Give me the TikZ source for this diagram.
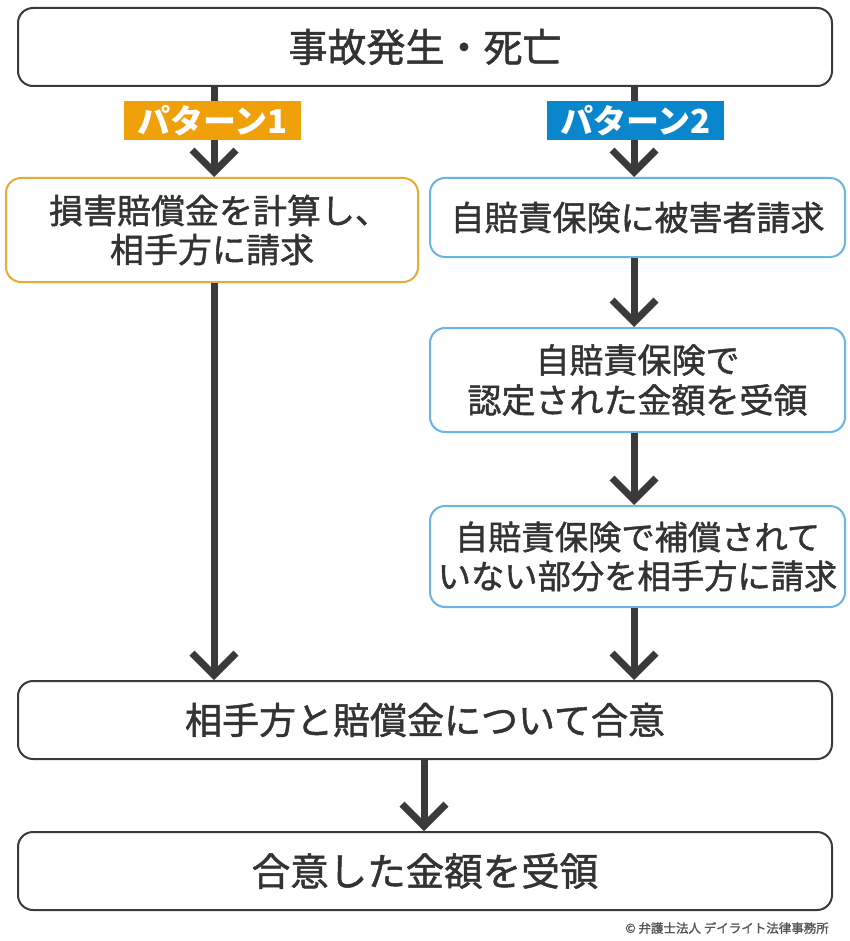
\documentclass[tikz,border=0pt]{standalone}
\usepackage{fontspec}
\newfontfamily\jp{Noto Sans CJK JP}[FakeBold=1.3]
\newfontfamily\jpb{Noto Sans CJK JP}
\usetikzlibrary{arrows.meta,calc}
\definecolor{txt}{HTML}{333333}
\definecolor{ln}{HTML}{3A3A3A}
\definecolor{org}{HTML}{F0A00A}
\definecolor{orgb}{HTML}{E9AC33}
\definecolor{blu}{HTML}{0A86CC}
\definecolor{blub}{HTML}{68B6E6}
\definecolor{cpy}{HTML}{555555}
\tikzset{
  box/.style={rectangle, rounded corners=15pt, line width=2pt, fill=white, text=txt,
    font=\jp\fontsize{38}{42}\selectfont, align=center, inner sep=0pt},
  graybox/.style={box, draw=ln},
  orgbox/.style={box, draw=orgb, font=\jp\fontsize{34}{39}\selectfont},
  blubox/.style={box, draw=blub, font=\jp\fontsize{34}{40}\selectfont},
  tag/.style={rectangle, inner sep=0pt, text=white, font=\jpb\bfseries\fontsize{33}{34}\selectfont,
    minimum width=177pt, minimum height=39pt},
  arr/.style={draw=ln, line width=7pt, -{Straight Barb[length=22pt,width=44pt,line width=7pt]}},
}
\begin{document}
\begin{tikzpicture}[x=1pt,y=-1pt]
\useasboundingbox (0,0) rectangle (850,941);
\fill[white] (0,0) rectangle (850,941);
\node[graybox, minimum width=814pt, minimum height=78pt, font=\jp\fontsize{39}{42}\selectfont] (top) at (425,47) {事故発生・死亡};
\node[orgbox, minimum width=412pt, minimum height=104pt] (L1) at (212,230) {\hspace*{14pt}損害賠償金を計算し、\\相手方に請求};
\node[blubox, minimum width=415pt, minimum height=79pt] (R1) at (637.5,217.5) {自賠責保険に被害者請求};
\node[blubox, minimum width=415pt, minimum height=104pt] (R2) at (637.5,380) {自賠責保険で\\認定された金額を受領};
\node[blubox, minimum width=415pt, minimum height=101pt, font=\jp\fontsize{33.3}{39}\selectfont] (R3) at (637.5,556.5) {自賠責保険で補償されて\\いない部分を相手方に請求};
\node[graybox, minimum width=814pt, minimum height=78pt, font=\jp\fontsize{37}{42}\selectfont] (M) at (425,720) {相手方と賠償金について合意};
\node[graybox, minimum width=814pt, minimum height=78pt, font=\jp\fontsize{38.5}{42}\selectfont] (B) at (425,871) {合意した金額を受領};
\coordinate (xl) at (214,0);
\coordinate (xr) at (634,0);
\coordinate (xm) at (424,0);
\draw[arr] (top.south -| xl) -- (L1.north -| xl);
\draw[arr] (top.south -| xr) -- (R1.north -| xr);
\draw[arr] (R1.south -| xr) -- (R2.north -| xr);
\draw[arr] (R2.south -| xr) -- (R3.north -| xr);
\draw[arr] (L1.south -| xl) -- (M.north -| xl);
\draw[arr] (R3.south -| xr) -- (M.north -| xr);
\draw[arr] (M.south -| xm) -- (B.north -| xm);
\node[tag, fill=org] (p1) at (212.5,120.5) {パターン1};
\node[tag, fill=blu] (p2) at (635.5,120.5) {パターン2};
\node[anchor=east, text=cpy, font=\jp\fontsize{12.5}{14}\selectfont, inner sep=0pt] (cp) at (829,928) {© 弁護士法人 デイライト法律事務所};
\end{tikzpicture}
\end{document}
